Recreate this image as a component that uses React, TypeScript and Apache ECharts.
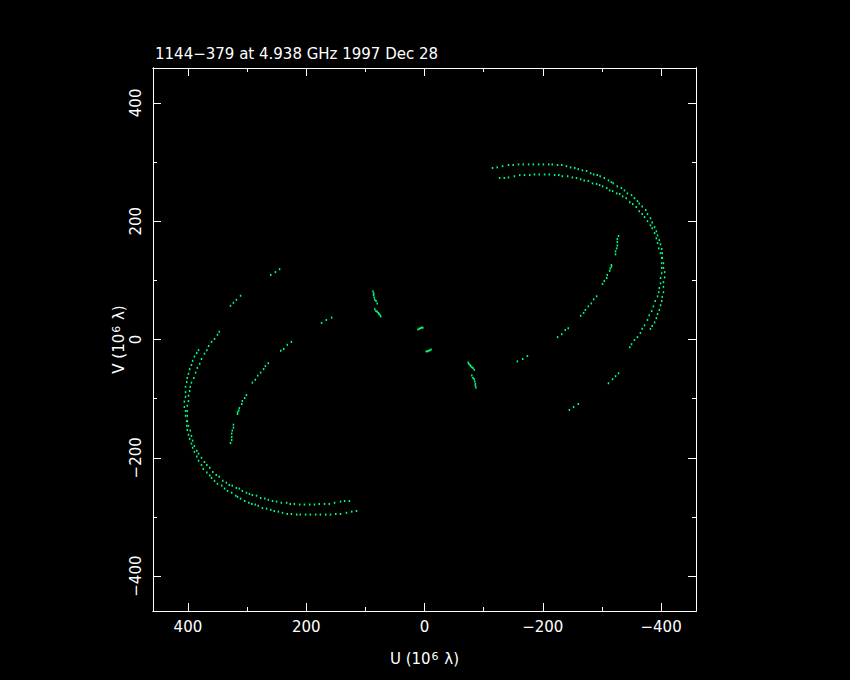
import React, { useEffect, useRef } from "react";
import * as echarts from "echarts";

type Pt = [number, number];

const TITLE = "1144\u2212379 at 4.938 GHz 1997 Dec 28";
const X_NAME = "{n|U (10}{s|6}{n| \u03bb)}";
const Y_NAME = "{n|V (10}{s|6}{n| \u03bb)}";
const AXIS_MIN = -459;
const AXIS_MAX = 459;
const MAJOR_TICKS = [-400, -200, 0, 200, 400];
const MINOR_TICKS = [-400, -300, -200, -100, 0, 100, 200, 300, 400];

// outer elliptical track, upper-right half (U<0, V>0)
const outerRingNE: Pt[] = [
  [-115, 290], [-123, 291], [-132, 293], [-142, 295], [-150, 295], [-159, 296], [-167, 296], [-176, 296],
  [-184, 296], [-193, 296], [-201, 296], [-210, 296], [-216, 296], [-225, 295], [-232, 295], [-240, 293],
  [-247, 291], [-254, 290], [-260, 288], [-267, 286], [-274, 285], [-281, 281], [-286, 279], [-292, 278],
  [-297, 276], [-304, 273], [-311, 269], [-316, 266], [-319, 264], [-326, 259], [-333, 256], [-338, 252],
  [-343, 247], [-350, 244], [-355, 239], [-360, 234], [-363, 230], [-368, 225], [-374, 219], [-377, 212],
  [-382, 205], [-385, 198], [-389, 190], [-392, 183], [-394, 176], [-397, 168], [-399, 161], [-401, 153],
  [-402, 146], [-402, 138], [-404, 129], [-404, 121], [-406, 114], [-406, 105], [-404, 97], [-404, 89],
  [-404, 80], [-402, 72], [-401, 65], [-399, 58], [-397, 50], [-394, 43], [-392, 36], [-389, 29],
  [-385, 23], [-382, 18],
];
// its conjugate, lower-left half
const outerRingSW: Pt[] = [
  [115, -290], [123, -291], [132, -293], [142, -295], [150, -295], [159, -296], [167, -296], [176, -296],
  [184, -296], [193, -296], [201, -296], [210, -296], [216, -296], [225, -295], [232, -295], [240, -293],
  [247, -291], [254, -290], [260, -288], [267, -286], [274, -285], [281, -281], [286, -279], [292, -278],
  [297, -276], [304, -273], [311, -269], [316, -266], [319, -264], [326, -259], [333, -256], [338, -252],
  [343, -247], [350, -244], [355, -239], [360, -234], [363, -230], [368, -225], [374, -219], [377, -212],
  [382, -205], [385, -198], [389, -190], [392, -183], [394, -176], [397, -168], [399, -161], [401, -153],
  [402, -146], [402, -138], [404, -129], [404, -121], [406, -114], [406, -105], [404, -97], [404, -89],
  [404, -80], [402, -72], [401, -65], [399, -58], [397, -50], [394, -43], [392, -36], [389, -29],
  [385, -23], [382, -18],
];

// inner elliptical track, upper-right half
const innerRingNE: Pt[] = [
  [-127, 273], [-135, 273], [-142, 274], [-152, 276], [-161, 278], [-169, 278], [-178, 278], [-186, 279],
  [-194, 279], [-203, 279], [-211, 279], [-220, 278], [-227, 278], [-233, 276], [-242, 276], [-250, 274],
  [-257, 273], [-264, 271], [-270, 269], [-277, 268], [-284, 264], [-291, 263], [-296, 261], [-301, 259],
  [-308, 256], [-313, 252], [-318, 251], [-325, 247], [-330, 246], [-335, 242], [-341, 239], [-347, 232],
  [-352, 229], [-358, 224], [-363, 217], [-368, 212], [-372, 207], [-377, 200], [-382, 193], [-385, 188],
  [-389, 180], [-392, 171], [-394, 163], [-396, 154], [-399, 146], [-401, 138], [-401, 129], [-401, 121],
  [-401, 112], [-399, 104], [-399, 95], [-397, 87], [-396, 80], [-394, 73], [-390, 65], [-387, 56],
  [-384, 48], [-380, 41], [-377, 33], [-372, 24], [-368, 18], [-365, 11], [-360, 4], [-355, -1],
  [-350, -8], [-347, -13],
];
const innerRingSW: Pt[] = [
  [127, -273], [135, -273], [142, -274], [152, -276], [161, -278], [169, -278], [178, -278], [186, -279],
  [194, -279], [203, -279], [211, -279], [220, -278], [227, -278], [233, -276], [242, -276], [250, -274],
  [257, -273], [264, -271], [270, -269], [277, -268], [284, -264], [291, -263], [296, -261], [301, -259],
  [308, -256], [313, -252], [318, -251], [325, -247], [330, -246], [335, -242], [341, -239], [347, -232],
  [352, -229], [358, -224], [363, -217], [368, -212], [372, -207], [377, -200], [382, -193], [385, -188],
  [389, -180], [392, -171], [394, -163], [396, -154], [399, -146], [401, -138], [401, -129], [401, -121],
  [401, -112], [399, -104], [399, -95], [397, -87], [396, -80], [394, -73], [390, -65], [387, -56],
  [384, -48], [380, -41], [377, -33], [372, -24], [368, -18], [365, -11], [360, -4], [355, 1],
  [350, 8], [347, 13],
];

// short sparse tracks, right half
const trackA_E: Pt[] = [[-328, 175], [-326, 170], [-326, 165], [-326, 159], [-325, 154], [-323, 149], [-323, 144]];
const trackB_E: Pt[] = [[-316, 126], [-316, 123], [-314, 120], [-313, 116], [-309, 109], [-308, 104], [-304, 99], [-301, 94]];
const trackC_E: Pt[] = [[-291, 73], [-286, 68], [-282, 61], [-277, 56], [-272, 50], [-269, 45], [-264, 40]];
const trackD_E: Pt[] = [[-243, 19], [-238, 16], [-232, 9], [-225, 4]];
const trackE_E: Pt[] = [[-174, -28], [-166, -33], [-157, -37]];
const trackF_E: Pt[] = [[-328, -57], [-323, -62], [-318, -67], [-311, -74]];
const trackG_E: Pt[] = [[-260, -109], [-252, -114], [-245, -119]];
// their conjugates, left half
const trackA_W: Pt[] = [[328, -175], [326, -170], [326, -165], [326, -159], [325, -154], [323, -149], [323, -144]];
const trackB_W: Pt[] = [[316, -126], [316, -123], [314, -120], [313, -116], [309, -109], [308, -104], [304, -99], [301, -94]];
const trackC_W: Pt[] = [[291, -73], [286, -68], [282, -61], [277, -56], [272, -50], [269, -45], [264, -40]];
const trackD_W: Pt[] = [[243, -19], [238, -16], [232, -9], [225, -4]];
const trackE_W: Pt[] = [[174, 28], [166, 33], [157, 37]];
const trackF_W: Pt[] = [[328, 57], [323, 62], [318, 67], [311, 74]];
const trackG_W: Pt[] = [[260, 109], [252, 114], [245, 119]];

// short baselines near the centre
const shortA_N: Pt[] = [[87, 81], [86, 78], [86, 75], [85, 71], [84, 67], [82, 65], [80, 61]];
const shortB_N: Pt[] = [[84, 51], [82, 48], [80, 47], [78, 45], [77, 43], [75, 41], [74, 39]];
const shortC_N: Pt[] = [[11, 17], [9, 18], [7, 19], [5, 20], [3, 20]];
const shortA_S: Pt[] = [[-87, -81], [-86, -78], [-86, -75], [-85, -71], [-84, -67], [-82, -65], [-80, -61]];
const shortB_S: Pt[] = [[-84, -51], [-82, -48], [-80, -47], [-78, -45], [-77, -43], [-75, -41], [-74, -39]];
const shortC_S: Pt[] = [[-11, -17], [-9, -18], [-7, -19], [-5, -20], [-3, -20]];

const ALL_TRACKS: Pt[][] = [
  outerRingNE, outerRingSW, innerRingNE, innerRingSW,
  trackA_E, trackB_E, trackC_E, trackD_E, trackE_E, trackF_E, trackG_E,
  trackA_W, trackB_W, trackC_W, trackD_W, trackE_W, trackF_W, trackG_W,
  shortA_N, shortB_N, shortC_N, shortA_S, shortB_S, shortC_S,
];

const FONT = "DejaVu Sans";
const WHITE = "#ffffff";
const DOT = "#00ff80";

const fmt = (v: number) => (v < 0 ? "\u2212" + Math.abs(v) : String(v));

const nameRich = {
  n: { color: WHITE, fontSize: 15, fontFamily: FONT, lineHeight: 15, verticalAlign: "bottom" },
  s: { color: WHITE, fontSize: 11, fontFamily: FONT, lineHeight: 11, verticalAlign: "top", padding: [0, 1, 12, 1] },
};

function makeAxes(dim: "x" | "y"): any[] {
  const base = {
    type: "value",
    min: AXIS_MIN,
    max: AXIS_MAX,
    inverse: dim === "x",
    splitLine: { show: false },
    axisLine: { show: true, onZero: false, lineStyle: { color: WHITE, width: 1 } },
    axisPointer: { show: false },
  };
  const p1 = dim === "x" ? "bottom" : "left";
  const p2 = dim === "x" ? "top" : "right";
  const major = { show: true, inside: true, length: 8, customValues: MAJOR_TICKS, lineStyle: { color: WHITE, width: 1 } };
  const minor = { show: true, inside: true, length: 4, customValues: MINOR_TICKS, lineStyle: { color: WHITE, width: 1 } };
  const noLabel = { show: false };
  return [
    {
      ...base,
      position: p1,
      axisTick: major,
      axisLabel: {
        show: true,
        customValues: MAJOR_TICKS,
        formatter: fmt,
        color: WHITE,
        fontSize: 15,
        fontFamily: FONT,
        margin: dim === "x" ? 8 : 10,
        rotate: dim === "x" ? 0 : 90,
      },
      name: dim === "x" ? X_NAME : Y_NAME,
      nameLocation: "middle",
      nameGap: dim === "x" ? 40 : 27,
      nameRotate: dim === "x" ? 0 : 90,
      nameMoveOverlap: false,
      nameTextStyle: { color: WHITE, fontSize: 15, fontFamily: FONT, rich: nameRich },
    },
    { ...base, position: p1, axisTick: minor, axisLabel: noLabel },
    { ...base, position: p2, axisTick: major, axisLabel: noLabel },
    { ...base, position: p2, axisTick: minor, axisLabel: noLabel },
  ];
}

export default function App() {
  const ref = useRef<HTMLDivElement>(null);
  useEffect(() => {
    if (!ref.current) return;
    const chart = echarts.init(ref.current, null, { renderer: "svg" });
    const data: Pt[] = [];
    ALL_TRACKS.forEach((t) => t.forEach((p) => data.push(p)));
    chart.setOption({
      animation: false,
      backgroundColor: "#000000",
      title: {
        text: TITLE,
        left: 150,
        top: 41,
        textStyle: { color: WHITE, fontSize: 15, fontFamily: FONT, fontWeight: "normal" },
      },
      grid: { left: 153, top: 68, width: 543, height: 543, containLabel: false, outerBoundsMode: "none" },
      xAxis: makeAxes("x"),
      yAxis: makeAxes("y"),
      series: [
        {
          type: "scatter",
          xAxisIndex: 0,
          yAxisIndex: 0,
          data,
          symbol: "rect",
          symbolSize: [1.5, 2],
          itemStyle: { color: DOT, opacity: 1 },
          silent: true,
          emphasis: { disabled: true },
        },
      ],
    });
    return () => chart.dispose();
  }, []);
  return (
    <div
      ref={ref}
      style={{ position: "fixed", left: 0, top: 0, width: 850, height: 680, background: "#000" }}
    />
  );
}
